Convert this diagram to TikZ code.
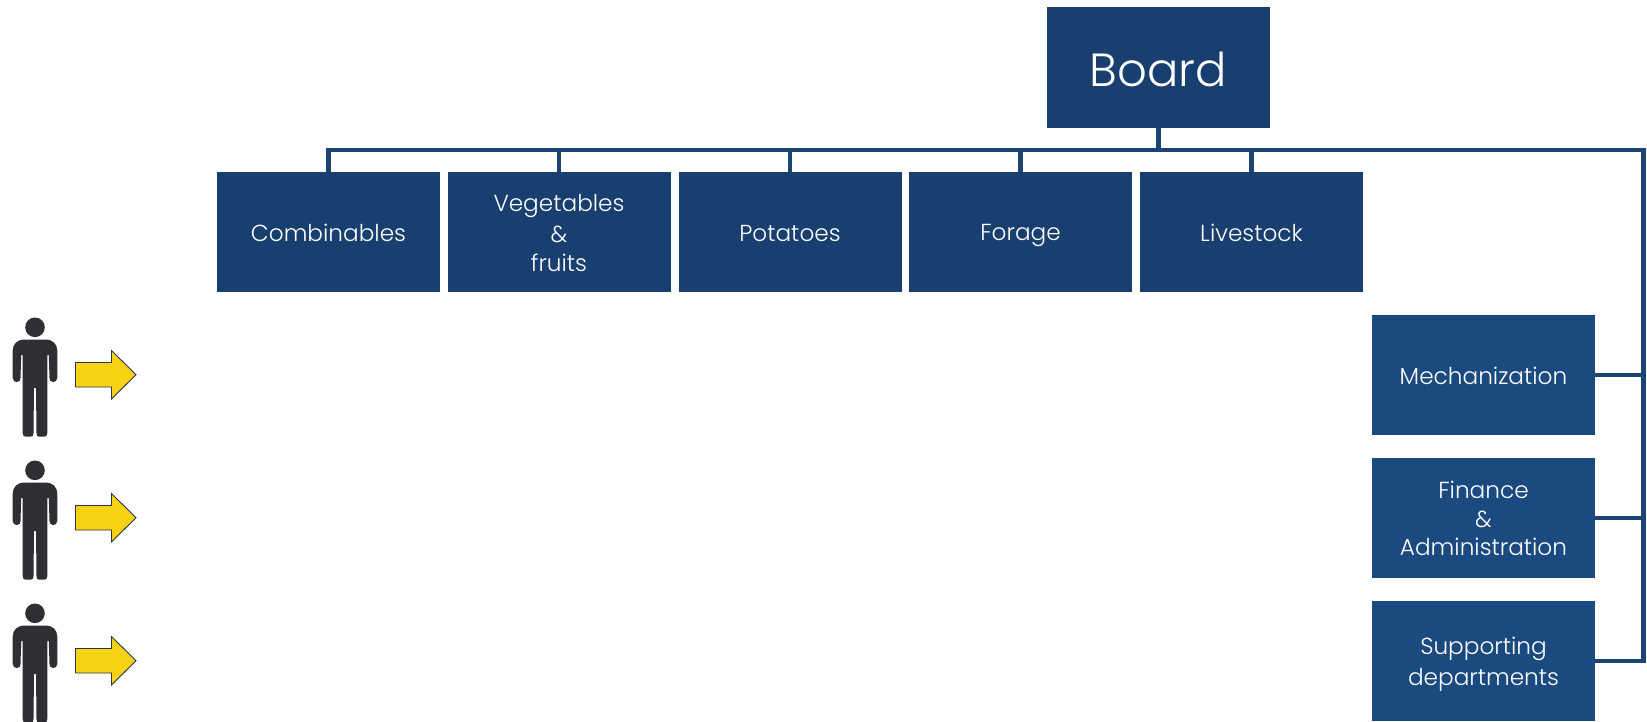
\documentclass[tikz,border=0pt]{standalone}
\usepackage{fontspec}
\setmainfont{Poppins}[UprightFont=* Light]
\definecolor{boardblue}{HTML}{183F70}
\definecolor{sideblue}{HTML}{1B4A80}
\definecolor{linkblue}{HTML}{1B4373}
\definecolor{figure}{HTML}{2F2F33}
\definecolor{arrowyellow}{HTML}{F8D315}
\definecolor{arrowedge}{HTML}{2A3550}
\newcommand\lineprop{\rule[-4.85pt]{0pt}{28.5pt}}
\newcommand\boardprop{\rule[-7.1pt]{0pt}{52pt}}
\tikzset{
  x=1pt,y=-1pt,
  box/.style={rectangle,inner sep=0pt,minimum width=223pt,minimum height=120.5pt,text=white,align=center,font=\fontsize{23.2}{28.5}\selectfont,fill=boardblue},
  sidebox/.style={box,fill=sideblue},
  boardbox/.style={box,minimum height=121pt,font=\fontsize{46.5}{52}\selectfont},
  link/.style={draw=linkblue,line width=4.4pt}
}
\begin{document}
\begin{tikzpicture}
\useasboundingbox (0,0) rectangle (1647,721);
\clip (0,0) rectangle (1647,721);
\fill[white] (0,0) rectangle (1647,721);
\node[boardbox] (board) at (1158.5,67.5) {\boardprop Board};
\node[box] (comb) at (328.5,232) {\lineprop Combinables};
\node[box] (veg) at (559,232) {\lineprop Vegetables\\\lineprop\&\\\lineprop fruits};
\node[box] (pot) at (790,232) {\lineprop Potatoes};
\node[box] (forage) at (1020.5,232) {\lineprop Forage};
\node[box] (live) at (1251.5,232) {\lineprop Livestock};
\node[sidebox] (mech) at (1483.5,375) {\lineprop Mechanization};
\node[sidebox] (fin) at (1483.5,518) {\lineprop Finance\\\lineprop\&\\\lineprop Administration};
\node[sidebox] (supp) at (1483.5,661) {\lineprop Supporting\\\lineprop departments};
\coordinate (bus) at (1158.5,150);
\coordinate (busR) at (1643.5,150);
\coordinate (busL) at (328.5,150);
\draw[link] (board.south) -- (bus);
\draw[link] (comb.north) -- (busL) -- (busR) -- (busR |- supp.east) -- (supp.east);
\foreach \n in {veg,pot,forage,live} \draw[link] (\n.north) -- (\n.north |- bus);
\draw[link] (mech.east) -- (mech.east -| busR);
\draw[link] (fin.east) -- (fin.east -| busR);
\foreach \dy in {0,143,286} {
\begin{scope}[yshift=-\dy pt]
\fill[figure] (35,327.3) circle (9.8);
\fill[figure] (25,339.5) -- (45,339.5) .. controls (53,339.5) and (57.3,344) .. (57.3,351) -- (57.3,378) .. controls (57.3,381) and (55,382) .. (53,382) .. controls (50.5,382) and (49.5,380) .. (49.5,378) -- (48.8,355) -- (47.3,355) -- (47.3,433) .. controls (47.3,436) and (46,436.7) .. (44,436.7) -- (39.5,436.7) .. controls (37.5,436.7) and (36.5,436) .. (36.5,433) -- (36,388) -- (34,388) -- (33.5,433) .. controls (33.5,436) and (32.5,436.7) .. (30.5,436.7) -- (26,436.7) .. controls (24,436.7) and (22.7,436) .. (22.7,433) -- (22.7,355) -- (21.2,355) -- (20.5,378) .. controls (20.5,380) and (19.5,382) .. (17,382) .. controls (15,382) and (12.7,381) .. (12.7,378) -- (12.7,351) .. controls (12.7,344) and (17,339.5) .. (25,339.5) -- cycle;
\filldraw[fill=arrowyellow,draw=arrowedge,line width=0.9pt] (75.5,362.5) -- (111.5,362.5) -- (111.5,350.5) -- (136,374.7) -- (111.5,399) -- (111.5,387) -- (75.5,387) -- cycle;
\end{scope}
}
\end{tikzpicture}
\end{document}
